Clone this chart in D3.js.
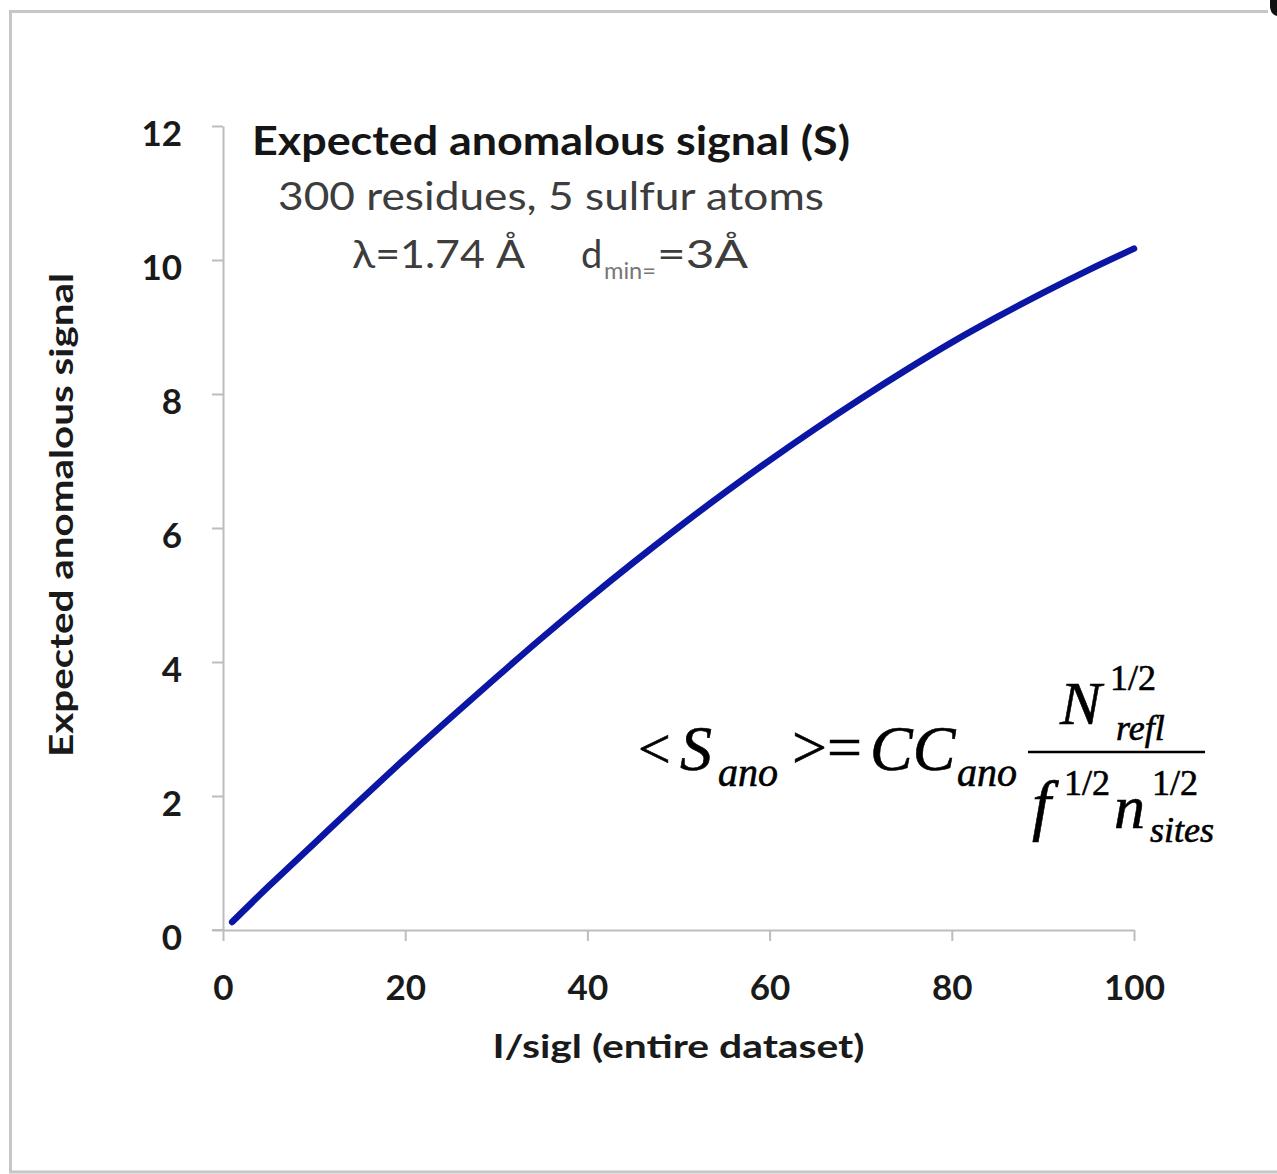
<!DOCTYPE html>
<html>
<head>
<meta charset="utf-8">
<script src="https://cdn.jsdelivr.net/npm/d3@7"></script>
<style>
    html, body { margin: 0; padding: 0; background: #fff; }
    svg { display: block; }
    .tick text { font-family: Lato, "Open Sans", sans-serif; font-weight: bold; fill: #1a1a1a; }
    .math { font-family: "Liberation Serif", "Times New Roman", serif; fill: #000; }
</style>
</head>
<body>
<div id="chart"></div>
<script>
// I/sigI of whole dataset vs expected anomalous signal
var iSigI = [1, 5, 10, 15, 20, 25, 30, 35, 40, 45, 50, 55, 60, 65, 70, 75, 80, 85, 90, 95, 100];
var signal = [0.12, 0.65, 1.29, 1.93, 2.56, 3.17, 3.77, 4.36, 4.93, 5.48, 6.01, 6.52, 7.01, 7.48, 7.93, 8.36, 8.77, 9.15, 9.51, 9.85, 10.17];

var xTicks = [0, 20, 40, 60, 80, 100];
var yTicks = [0, 2, 4, 6, 8, 10, 12];

var titleLines = ['Expected anomalous signal (S)', '300 residues, 5 sulfur atoms'];
var xTitle = 'I/sigl (entire dataset)';
var yTitle = 'Expected anomalous signal';

var _width = 1277,
    _height = 1174,
    _left = 223,
    _right = 1134,
    _top = 126,
    _bottom = 930,
    _axisColor = '#bdbdbd',
    _lineColor = '#0b16a4',
    _font = 'Lato, "Open Sans", sans-serif';

var svg = d3.select('#chart').append('svg')
    .attr('width', _width)
    .attr('height', _height);

// FRAME
// ----------------------------------------------------------------
svg.append('path')
    .attr('d', 'M1268,11.5 L10.5,11.5 L10.5,1172 L1277,1172')
    .attr('fill', 'none')
    .attr('stroke', '#c6c6c6')
    .attr('stroke-width', 3);
svg.append('path')
    .attr('d', 'M1270,0 L1277,0 L1277,16 Q1271,15 1270,7 Z')
    .attr('fill', '#111');

// SCALES / AXES
// ----------------------------------------------------------------
var x = d3.scaleLinear().domain([0, 100]).range([_left, _right]);
var y = d3.scaleLinear().domain([0, 12]).range([_bottom, _top]);

var gx = svg.append('g')
    .attr('transform', 'translate(0,' + _bottom + ')')
    .call(d3.axisBottom(x).tickValues(xTicks).tickSize(11).tickPadding(59).tickSizeOuter(0));
gx.selectAll('text').attr('font-size', 35).attr('dy', 0);

var gy = svg.append('g')
    .attr('transform', 'translate(' + _left + ',0)')
    .call(d3.axisLeft(y).tickValues(yTicks).tickSize(11).tickPadding(30).tickSizeOuter(0));
gy.selectAll('text').attr('font-size', 35).attr('dy', 19);

svg.selectAll('.domain, .tick line')
    .attr('stroke', _axisColor)
    .attr('stroke-width', 2);
svg.selectAll('.tick text').attr('font-family', _font);

// x axis: extend line to the left tick of y axis
svg.append('line')
    .attr('x1', _left - 11).attr('x2', _left)
    .attr('y1', _bottom).attr('y2', _bottom)
    .attr('stroke', _axisColor).attr('stroke-width', 2);

// AXIS TITLES
// ----------------------------------------------------------------
svg.append('text')
    .attr('x', (_left + _right) / 2)
    .attr('y', 1058)
    .attr('text-anchor', 'middle')
    .attr('font-family', _font)
    .attr('font-weight', 'bold')
    .attr('font-size', 32)
    .attr('fill', '#1a1a1a')
    .attr('textLength', 372)
    .attr('lengthAdjust', 'spacingAndGlyphs')
    .text(xTitle);

svg.append('text')
    .attr('transform', 'translate(73,515) rotate(-90)')
    .attr('text-anchor', 'middle')
    .attr('font-family', _font)
    .attr('font-weight', 'bold')
    .attr('font-size', 32)
    .attr('fill', '#1a1a1a')
    .attr('textLength', 484)
    .attr('lengthAdjust', 'spacingAndGlyphs')
    .text(yTitle);

// LINE
// ----------------------------------------------------------------
var line = d3.line()
    .x(function (d, i) { return x(iSigI[i]); })
    .y(function (d) { return y(d); })
    .curve(d3.curveMonotoneX);

svg.append('path')
    .datum(signal)
    .attr('d', line)
    .attr('fill', 'none')
    .attr('stroke', _lineColor)
    .attr('stroke-width', 6.5)
    .attr('stroke-linecap', 'round')
    .attr('stroke-linejoin', 'round');

// TITLE BLOCK
// ----------------------------------------------------------------
var cx = 551;
svg.append('text')
    .attr('x', cx).attr('y', 155)
    .attr('text-anchor', 'middle')
    .attr('font-family', _font).attr('font-weight', 'bold').attr('font-size', 41)
    .attr('fill', '#151515')
    .attr('textLength', 598).attr('lengthAdjust', 'spacingAndGlyphs')
    .text(titleLines[0]);

svg.append('text')
    .attr('x', cx).attr('y', 210)
    .attr('text-anchor', 'middle')
    .attr('font-family', _font).attr('font-size', 39)
    .attr('fill', '#3d3d3d')
    .attr('textLength', 546).attr('lengthAdjust', 'spacingAndGlyphs')
    .text(titleLines[1]);

var l3 = svg.append('g')
    .attr('font-family', _font)
    .attr('fill', '#3d3d3d');
l3.append('text')
    .attr('x', 352).attr('y', 268)
    .attr('font-size', 38)
    .attr('textLength', 173).attr('lengthAdjust', 'spacingAndGlyphs')
    .text('λ=1.74 Å');
l3.append('text')
    .attr('x', 581).attr('y', 268)
    .attr('font-size', 38)
    .text('d');
l3.append('text')
    .attr('x', 604).attr('y', 279)
    .attr('font-size', 24)
    .attr('fill', '#777')
    .attr('textLength', 52).attr('lengthAdjust', 'spacingAndGlyphs')
    .text('min=');
l3.append('text')
    .attr('x', 657).attr('y', 268)
    .attr('font-size', 38)
    .attr('textLength', 91).attr('lengthAdjust', 'spacingAndGlyphs')
    .text('=3Å');

// FORMULA
// ----------------------------------------------------------------
var gMath = svg.append('g').attr('class', 'math');

var mathText = function (str, px, py, size, italic) {
    gMath.append('text')
        .attr('class', 'math')
        .attr('x', px).attr('y', py)
        .attr('font-size', size)
        .attr('font-style', italic ? 'italic' : 'normal')
        .attr('stroke', '#000')
        .attr('stroke-width', 0.6)
        .text(str);
};

mathText('<', 638, 768, 58, false);
mathText('S', 680, 770, 64, true);
mathText('ano', 718, 786, 40, true);
mathText('>=', 792, 768, 62, false);
mathText('CC', 870, 770, 64, true);
mathText('ano', 957, 786, 40, true);

gMath.append('line')
    .attr('x1', 1028).attr('x2', 1205)
    .attr('y1', 752).attr('y2', 752)
    .attr('stroke', '#000').attr('stroke-width', 2.5);

mathText('N', 1060, 724, 62, true);
mathText('1/2', 1110, 690, 36, false);
mathText('refl', 1116, 740, 36, true);

mathText('f', 1032, 828, 68, true);
mathText('1/2', 1064, 795, 36, false);
mathText('n', 1114, 828, 62, true);
mathText('1/2', 1152, 795, 36, false);
mathText('sites', 1150, 842, 36, true);
</script>
</body>
</html>
